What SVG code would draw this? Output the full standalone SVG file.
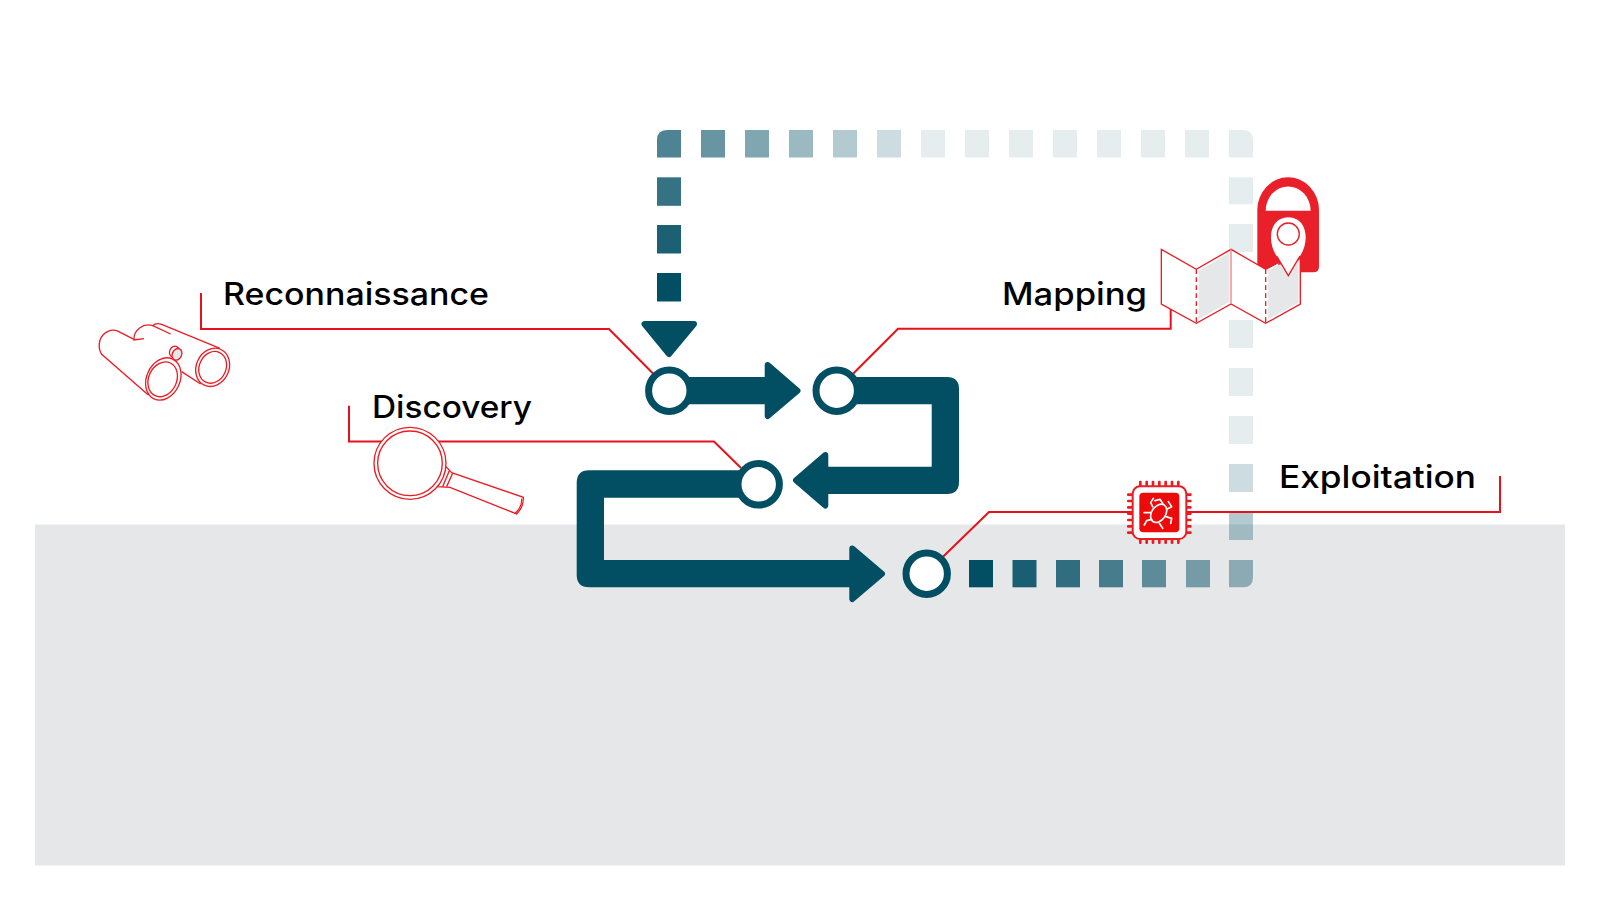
<svg xmlns="http://www.w3.org/2000/svg" width="1600" height="900" viewBox="0 0 1600 900">
<style>
.bg{fill:#e6e7e9}
.dash{fill:#024f64}
.flow{fill:#024f64}
.head{fill:#024f64;stroke:#024f64;stroke-width:6;stroke-linejoin:round}
.stage{fill:#fff;stroke:#024f64;stroke-width:7}
.lead{fill:none;stroke:#e8101a;stroke-width:2}
.ic{fill:none;stroke:#ea1c24;stroke-width:4}
.icf{fill:#fff;stroke:#ea1c24;stroke-width:4}
.label{font-family:Inter,"Open Sans",sans-serif;font-weight:550;font-size:31px;fill:#000}
.bug{fill:none;stroke:#fff;stroke-width:5;stroke-linecap:round;stroke-linejoin:round}
</style>
<rect class="bg" x="35" y="524.5" width="1530" height="341"/>
<g id="dashes">
<rect class="dash" x="657" y="273" width="24" height="28.5"/>
<rect class="dash" x="657" y="225" width="24" height="28.5" opacity=".9"/>
<rect class="dash" x="657" y="177.3" width="24" height="28.5" opacity=".8"/>
<path class="dash" opacity=".7" d="M657,157.5V140Q657,130 667,130H681V157.5Z"/>
<rect class="dash" x="701" y="130" width="24" height="27.5" opacity=".6"/>
<rect class="dash" x="745" y="130" width="24" height="27.5" opacity=".5"/>
<rect class="dash" x="789" y="130" width="24" height="27.5" opacity=".4"/>
<rect class="dash" x="833" y="130" width="24" height="27.5" opacity=".3"/>
<rect class="dash" x="877" y="130" width="24" height="27.5" opacity=".2"/>
<rect class="dash" x="921" y="130" width="24" height="27.5" opacity=".1"/>
<rect class="dash" x="965" y="130" width="24" height="27.5" opacity=".1"/>
<rect class="dash" x="1009" y="130" width="24" height="27.5" opacity=".1"/>
<rect class="dash" x="1053" y="130" width="24" height="27.5" opacity=".1"/>
<rect class="dash" x="1097" y="130" width="24" height="27.5" opacity=".1"/>
<rect class="dash" x="1141" y="130" width="24" height="27.5" opacity=".1"/>
<rect class="dash" x="1185" y="130" width="24" height="27.5" opacity=".1"/>
<path class="dash" opacity=".1" d="M1229,130H1243Q1253,130 1253,140V157.5H1229Z"/>
<rect class="dash" x="1229" y="177.3" width="24" height="27" opacity=".1"/>
<rect class="dash" x="1229" y="224" width="24" height="28" opacity=".1"/>
<rect class="dash" x="1229" y="272" width="24" height="28" opacity=".1"/>
<rect class="dash" x="1229" y="320" width="24" height="28" opacity=".1"/>
<rect class="dash" x="1229" y="368" width="24" height="28" opacity=".1"/>
<rect class="dash" x="1229" y="416" width="24" height="28" opacity=".1"/>
<rect class="dash" x="1229" y="464" width="24" height="28" opacity=".2"/>
<rect class="dash" x="1229" y="513" width="24" height="27" opacity=".3"/>
<path class="dash" opacity=".4" d="M1229,560H1253V577Q1253,587.3 1243,587.3H1229Z"/>
<rect class="dash" x="1186" y="560" width="24" height="27.3" opacity=".5"/>
<rect class="dash" x="1142" y="560" width="24" height="27.3" opacity=".6"/>
<rect class="dash" x="1099" y="560" width="24" height="27.3" opacity=".7"/>
<rect class="dash" x="1056" y="560" width="24" height="27.3" opacity=".8"/>
<rect class="dash" x="1012.5" y="560" width="24" height="27.3" opacity=".9"/>
<rect class="dash" x="969" y="560" width="24" height="27.3"/>
</g>
<g id="connectors">
<path class="lead" d="M201,293V329H609L653,373.5"/>
<path class="lead" d="M349,405.7V441.5H714L741,468"/>
<path class="lead" d="M1170.7,309V328.7H898L853.3,373.5"/>
<path class="lead" d="M1500,476V512H989L943,556.7"/>
<polygon class="head" points="644.5,324 694,324 669,354"/>
<path class="flow" d="M669,377H766V404.3H669Z"/>
<polygon class="head" points="767.7,365 797.5,390.7 767.7,416"/>
<path class="flow" d="M836,377H947Q959,377 959,389V482Q959,494 947,494H828V466.7H931.7V404.3H836Z"/>
<polygon class="head" points="825.3,455 796,480.3 825.3,505.5"/>
<path class="flow" d="M758,470.3H589Q576.7,470.3 576.7,483V575Q576.7,587.3 589,587.3H851V560H604V497.7H758Z"/>
<polygon class="head" points="852.3,548.5 882,573.7 852.3,599"/>
</g>
<g id="reconnaissance">
<circle class="stage" cx="669.3" cy="390.7" r="20.7"/>
<text class="label" x="223" y="304.5" textLength="266" lengthAdjust="spacingAndGlyphs">Reconnaissance</text>
<g id="binoculars" transform="translate(80,260) scale(.3333)">
<path class="ic" d="M162,238L115,214C95,205 70,215 60,240C55,258 58,272 65,283L205,405"/>
<path class="ic" d="M192,236L162,240C160,210 190,188 218,197L272,222"/>
<path class="ic" d="M218,197C225,190 235,190 245,193L420,265"/>
<path class="ic" d="M305,335L362,372"/>
<ellipse class="icf" cx="283" cy="275" rx="14" ry="17" transform="rotate(25 283 275)"/>
<ellipse cx="291" cy="283" rx="14" ry="18" transform="rotate(25 291 283)" style="fill:#e6e7e9;stroke:#ea1c24;stroke-width:4"/>
<ellipse class="icf" cx="250" cy="357" rx="50" ry="66" transform="rotate(25 250 357)"/>
<ellipse class="ic" cx="248" cy="358" rx="42" ry="54" transform="rotate(25 248 358)"/>
<ellipse class="icf" cx="398" cy="322" rx="49" ry="59" transform="rotate(25 398 322)"/>
<ellipse class="ic" cx="398" cy="322" rx="40" ry="49" transform="rotate(25 398 322)"/>
</g>
</g>
<g id="mapping">
<circle class="stage" cx="836.7" cy="390.7" r="20.7"/>
<text class="label" x="1002" y="304.5" textLength="145" lengthAdjust="spacingAndGlyphs">Mapping</text>
<g id="lock-map" transform="translate(1120,160) scale(.3333)">
<path d="M412,150A92.5,98 0 0 1 597,150V320Q597,337 580,337H412Z" fill="#e91f29"/>
<path d="M437,152A67,72 0 0 1 572,152Z" fill="#fff"/>
<path d="M124,268L229,328L333,268L437,328L475,308V400L541,295V432L437,490L333,432L229,490L124,432Z" fill="#fff" stroke="none"/>
<path d="M236,332L328,278V426L236,478Z" fill="#e6e7e9"/>
<path d="M444,332L475,315L536,300V428L444,478Z" fill="#e6e7e9"/>
<path class="ic" d="M475,308L437,328L333,268L229,328L124,268V432L229,490L333,432L437,490L541,432V290"/>
<path class="ic" d="M333,268V432" style="stroke:#f08088"/>
<path class="ic" d="M229,328V490M437,328V490" stroke-dasharray="14 10"/>
<path d="M505,347L468,285C440,240 450,172 505,172C560,172 570,240 542,285Z" fill="#fff"/>
<path class="ic" d="M470,288L505,347L540,288"/>
<circle class="ic" cx="505" cy="222" r="33"/>
</g>
</g>
<g id="discovery">
<circle class="stage" cx="758.7" cy="484.3" r="20.7"/>
<text class="label" x="372" y="417.5" textLength="160" lengthAdjust="spacingAndGlyphs">Discovery</text>
<g id="magnifier" transform="translate(80,260) scale(.3333)">
<path class="icf" d="M1098,620L1115,638L1330,712Q1332,740 1310,762L1110,682L1072,680Z"/>
<path class="ic" d="M1118,640L1100,680M1108,632L1088,680M1325,716Q1327,740 1306,760"/>
<circle class="icf" cx="990" cy="610" r="108"/>
<circle class="ic" cx="990" cy="610" r="97"/>
</g>
</g>
<g id="exploitation">
<circle class="stage" cx="926.7" cy="573.7" r="20.7"/>
<text class="label" x="1279" y="487.5" textLength="197" lengthAdjust="spacingAndGlyphs">Exploitation</text>
<g id="chip" transform="translate(1100,460) scale(.3333)">
<g fill="#ea1c24">
<rect x="117" y="62" width="8" height="190" rx="3"/><rect x="136" y="62" width="8" height="190" rx="3"/><rect x="155" y="62" width="8" height="190" rx="3"/><rect x="174" y="62" width="8" height="190" rx="3"/><rect x="193" y="62" width="8" height="190" rx="3"/><rect x="212" y="62" width="8" height="190" rx="3"/><rect x="231" y="62" width="8" height="190" rx="3"/>
<rect x="81" y="100" width="194" height="8" rx="3"/><rect x="81" y="119" width="194" height="8" rx="3"/><rect x="81" y="138" width="194" height="8" rx="3"/><rect x="81" y="157" width="194" height="8" rx="3"/><rect x="81" y="176" width="194" height="8" rx="3"/><rect x="81" y="195" width="194" height="8" rx="3"/><rect x="81" y="214" width="194" height="8" rx="3"/>
</g>
<rect x="98" y="79" width="161" height="158" rx="22" fill="#fff" stroke="#ea1c24" stroke-width="6"/>
<rect x="118" y="98" width="120" height="119" rx="12" fill="#ec0a0a"/>
<ellipse class="bug" cx="176" cy="160" rx="21" ry="30" transform="rotate(35 176 160)"/>
<path class="bug" d="M158,140L152,128L160,115M153,158L132,158M155,178L140,182L133,195M188,130L180,118L165,122M200,148L215,140L205,125M198,170L215,175L212,190M178,190L188,205"/>
</g>
</g>
</svg>
